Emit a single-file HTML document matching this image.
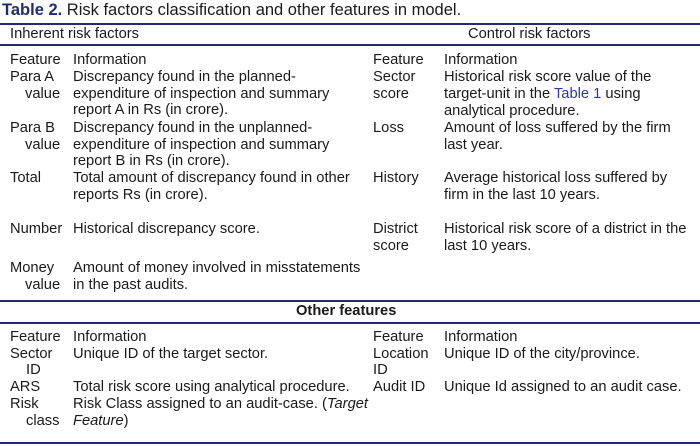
<!DOCTYPE html>
<html><head><meta charset="utf-8"><style>
body{margin:0;background:#fff;}
#c{position:relative;width:700px;height:446px;overflow:hidden;font-family:"Liberation Sans",sans-serif;font-size:14.7px;color:#1a1a1a;}
#c div{position:absolute;white-space:nowrap;line-height:16px;}
.r{height:2px;background:#1f2d6e;}
a{color:#2b3a9c;text-decoration:none}
</style></head><body><div id="c">
<div style="left:2px;top:2px;font-size:16.5px"><b style="color:#1f2d6e">Table 2.</b> Risk factors classification and other features in model.</div>
<div class="r" style="left:0;top:23px;width:700px"></div>
<div style="left:10px;top:26px">Inherent risk factors</div>
<div style="left:468px;top:26px">Control risk factors</div>
<div class="r" style="left:0;top:44px;width:700px;height:1.5px"></div>

<div style="left:10px;top:52px">Feature</div><div style="left:73px;top:52px">Information</div>
<div style="left:10px;top:69px">Para A</div><div style="left:25px;top:86px">value</div>
<div style="left:73px;top:69px">Discrepancy found in the planned-</div>
<div style="left:73px;top:86px">expenditure of inspection and summary</div>
<div style="left:73px;top:102px">report A in Rs (in crore).</div>
<div style="left:10px;top:120px">Para B</div><div style="left:25px;top:137px">value</div>
<div style="left:73px;top:120px">Discrepancy found in the unplanned-</div>
<div style="left:73px;top:137px">expenditure of inspection and summary</div>
<div style="left:73px;top:153px">report B in Rs (in crore).</div>
<div style="left:10px;top:170px">Total</div>
<div style="left:73px;top:170px">Total amount of discrepancy found in other</div>
<div style="left:73px;top:187px">reports Rs (in crore).</div>
<div style="left:10px;top:221px">Number</div>
<div style="left:73px;top:221px">Historical discrepancy score.</div>
<div style="left:10px;top:260px">Money</div><div style="left:25px;top:277px">value</div>
<div style="left:73px;top:260px">Amount of money involved in misstatements</div>
<div style="left:73px;top:277px">in the past audits.</div>

<div style="left:373px;top:52px">Feature</div><div style="left:444px;top:52px">Information</div>
<div style="left:373px;top:69px">Sector</div><div style="left:373px;top:86px">score</div>
<div style="left:444px;top:69px">Historical risk score value of the</div>
<div style="left:444px;top:86px">target-unit in the <a>Table 1</a> using</div>
<div style="left:444px;top:103px">analytical procedure.</div>
<div style="left:373px;top:120px">Loss</div>
<div style="left:444px;top:120px">Amount of loss suffered by the firm</div>
<div style="left:444px;top:137px">last year.</div>
<div style="left:373px;top:170px">History</div>
<div style="left:444px;top:170px">Average historical loss suffered by</div>
<div style="left:444px;top:187px">firm in the last 10 years.</div>
<div style="left:373px;top:221px">District</div><div style="left:373px;top:238px">score</div>
<div style="left:444px;top:221px">Historical risk score of a district in the</div>
<div style="left:444px;top:238px">last 10 years.</div>

<div class="r" style="left:0;top:300px;width:700px"></div>
<div style="left:296px;top:303px"><b>Other features</b></div>
<div class="r" style="left:0;top:322px;width:700px"></div>

<div style="left:10px;top:329px">Feature</div><div style="left:73px;top:329px">Information</div>
<div style="left:10px;top:346px">Sector</div><div style="left:26px;top:362px">ID</div>
<div style="left:73px;top:346px">Unique ID of the target sector.</div>
<div style="left:10px;top:379px">ARS</div>
<div style="left:73px;top:379px">Total risk score using analytical procedure.</div>
<div style="left:10px;top:396px">Risk</div><div style="left:26px;top:413px">class</div>
<div style="left:73px;top:396px">Risk Class assigned to an audit-case. (<i>Target</i></div>
<div style="left:73px;top:413px"><i>Feature</i>)</div>

<div style="left:373px;top:329px">Feature</div><div style="left:444px;top:329px">Information</div>
<div style="left:373px;top:346px">Location</div><div style="left:373px;top:362px">ID</div>
<div style="left:444px;top:346px">Unique ID of the city/province.</div>
<div style="left:373px;top:379px">Audit ID</div>
<div style="left:444px;top:379px">Unique Id assigned to an audit case.</div>

<div class="r" style="left:0;top:442px;width:700px"></div>
</div></body></html>
